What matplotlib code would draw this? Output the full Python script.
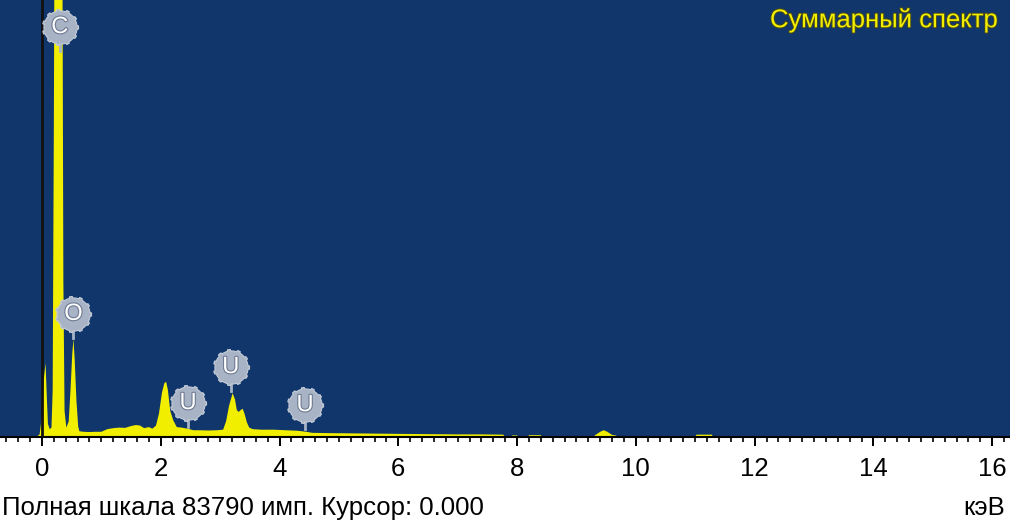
import numpy as np
import matplotlib
matplotlib.use("Agg")
import matplotlib.pyplot as plt
from matplotlib.path import Path
from matplotlib.markers import MarkerStyle
import matplotlib.patheffects as pe

plt.rcParams['font.family'] = ['Liberation Sans', 'DejaVu Sans']

# spectrum (keV, counts)
energy_kev = [-0.10, -0.04, 0.00, 0.03, 0.06, 0.08, 0.10, 0.13, 0.16, 0.18,
              0.20, 0.22, 0.28, 0.34, 0.36, 0.38, 0.41, 0.45, 0.48, 0.51,
              0.53, 0.55, 0.58, 0.61, 0.63, 0.70, 0.80, 0.90, 1.00, 1.10,
              1.20, 1.30, 1.40, 1.50, 1.58, 1.65, 1.72, 1.80, 1.86, 1.92,
              1.97, 2.02, 2.06, 2.09, 2.12, 2.16, 2.21, 2.27, 2.35, 2.45,
              2.55, 2.65, 2.80, 2.95, 3.05, 3.10, 3.15, 3.21, 3.25, 3.28,
              3.31, 3.35, 3.38, 3.41, 3.45, 3.49, 3.55, 3.70, 3.90, 4.10,
              4.30, 4.45, 4.55, 4.80, 5.20, 5.60, 6.00, 6.50, 7.00, 7.40,
              7.77, 7.79, 7.90, 7.92, 8.00, 8.02, 8.18, 8.20, 8.40, 8.42,
              9.28, 9.32, 9.40, 9.46, 9.52, 9.60, 9.66, 9.70, 11.00, 11.02,
              11.28, 11.30, 16.30]
counts = [0, 500, 4000, 11000, 14200, 8000, 2500, 1500, 1800, 9000,
          60000, 130000, 145000, 110000, 30000, 5000, 1800, 3000, 9000, 16000,
          18800, 15000, 7000, 2000, 1100, 1000, 950, 1000, 1000, 1500,
          1700, 1800, 1750, 2100, 2300, 2200, 1700, 1900, 1600, 2200,
          4500, 8500, 10300, 10600, 9000, 5000, 3200, 1900, 1800, 1600,
          1300, 1300, 1250, 1300, 1400, 3000, 6000, 8400, 7200, 5200,
          4800, 5200, 5400, 4500, 2800, 1800, 1500, 1400, 1400, 1300,
          1200, 1000, 800, 750, 700, 650, 600, 550, 500, 500,
          450, 0, 0, 300, 300, 0, 0, 350, 350, 0,
          0, 400, 1000, 1300, 1000, 400, 300, 0, 0, 450,
          450, 0, 0]

full_scale = 83790
cursor_kev = 0.0

# element markers
elements = ["C", "O", "U", "U", "U"]
element_kev = [0.30, 0.53, 2.46, 3.18, 4.43]
label_y = [78600, 23600, 6500, 13400, 6100]

major_ticks = np.arange(0, 17, 2)
minor_ticks = np.arange(-0.6, 16.3, 0.2)

bg_blue = "#11366b"
yellow = "#f2ee00"
badge = "#a8b3c5"

fig = plt.figure(figsize=(10.10, 5.25), dpi=100)
fig.patch.set_facecolor("white")
ax = fig.add_axes([0, 88 / 525, 1, 437 / 525])
ax.set_facecolor(bg_blue)

ax.fill_between(energy_kev, counts, 0, color=yellow, lw=0, zorder=2)
ax.axvline(cursor_kev, color="#111111", lw=2, zorder=3)

ax.set_xlim(-0.707, 16.30)
ax.set_ylim(0, full_scale)

# gear-like badge shape
th = np.linspace(0, 2 * np.pi, 361)
rr = 1 + 0.09 * (np.cos(11 * th) > 0.55)
gear = MarkerStyle(Path(np.column_stack([rr * np.cos(th), rr * np.sin(th)])))

stem = 24 * full_scale / 437
for name, xk, yk in zip(elements, element_kev, label_y):
    ax.plot([xk, xk], [yk - stem, yk], color=badge, lw=2, zorder=4)
    ax.plot(xk, yk, marker=gear, ms=26, color=badge, mec="#c3cbd8",
            mew=0.8, zorder=5)
    ax.text(xk, yk, name, ha="center", va="center", fontsize=17,
            color="white", zorder=6,
            path_effects=[pe.withStroke(linewidth=1.6, foreground="#6c7a92")])

ax.set_xticks(major_ticks)
ax.set_xticks(minor_ticks, minor=True)
ax.set_xticklabels([str(t) for t in major_ticks])
ax.set_yticks([])
ax.tick_params(axis="x", which="major", direction="out", length=6.5,
               width=1.4, pad=8, labelsize=18.5, color="black")
ax.tick_params(axis="x", which="minor", direction="out", length=3.6,
               width=1.2, color="black")
for s in ["top", "left", "right"]:
    ax.spines[s].set_visible(False)
ax.spines["bottom"].set_color("black")
ax.spines["bottom"].set_linewidth(1.5)

fig.text(998 / 1010, 1 - 20 / 525, "Суммарный спектр", ha="right",
         va="center", fontsize=18.5, color=yellow,
         path_effects=[pe.withStroke(linewidth=1.3, foreground="#4a4a18")])
fig.text(2 / 1010, 17 / 525, "Полная шкала 83790 имп. Курсор: 0.000",
         ha="left", va="center", fontsize=18.5, color="black")
fig.text(1005 / 1010, 17 / 525, "кэВ", ha="right", va="center",
         fontsize=18.5, color="black")

fig.savefig("out.png", dpi=100, facecolor=fig.get_facecolor())
